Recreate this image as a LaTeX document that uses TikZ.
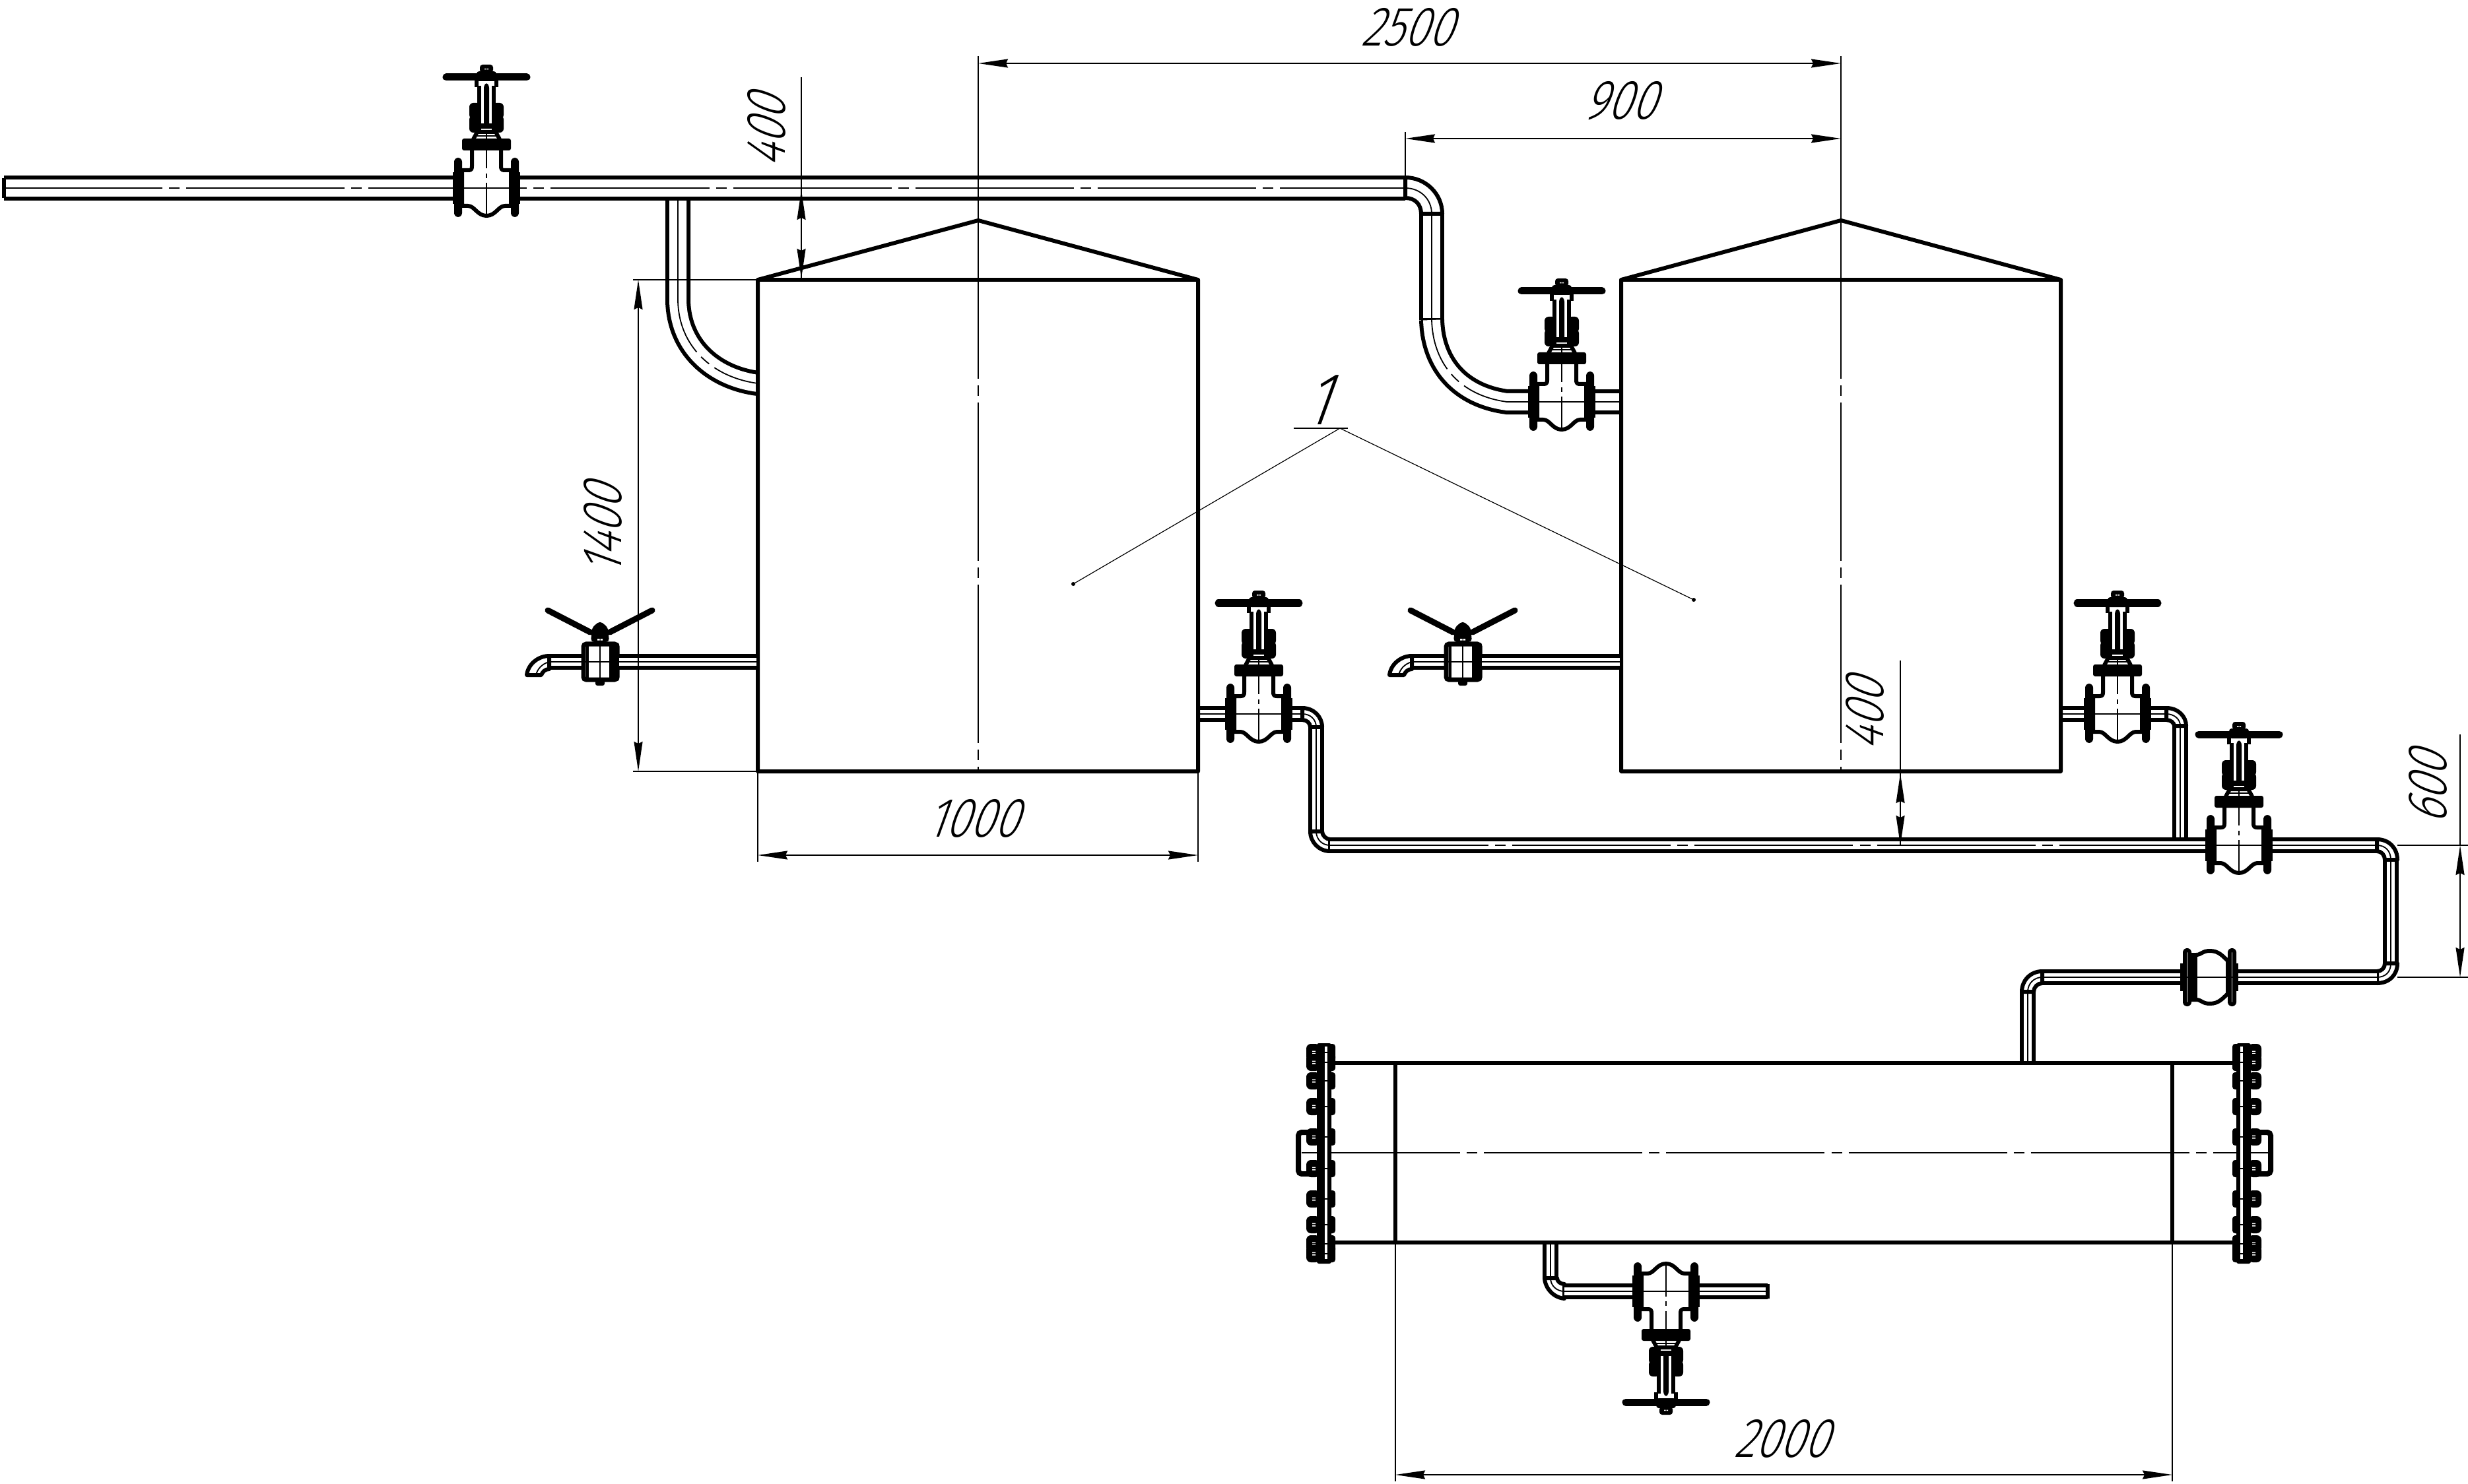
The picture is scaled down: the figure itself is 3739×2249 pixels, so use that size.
\documentclass[tikz,border=0pt]{standalone}
\usepackage{fontspec}
\usetikzlibrary{arrows.meta}
\newfontfamily\dimfont[FakeSlant=0.36,FakeStretch=0.8]{Fira Sans Light}
\tikzset{
 thickl/.style={line width=0.06cm,line join=round},
 thinl/.style={line width=0.018cm},
 cl/.style={line width=0.016cm,dash pattern=on 2.4cm off 0.1cm on 0.16cm off 0.1cm},
 bigpipe/.style={line width=0.06cm,double,double distance=0.26cm},
 smallpipe/.style={line width=0.06cm,double,double distance=0.115cm},
 dimarrow/.style={line width=0.018cm,{Stealth[length=0.45cm,width=0.13cm,inset=0.03cm]}-{Stealth[length=0.45cm,width=0.13cm,inset=0.03cm]}},
 dimtext/.style={font=\dimfont\fontsize{24}{24}\selectfont,inner sep=0pt},
 gatevalve/.pic={
  \draw[thickl,fill=white] (-37,-27) -- (-27,-27) .. controls (-23,-27) and (-22,-29) .. (-22,-33) -- (-22,-60) -- (22,-60) -- (22,-33) .. controls (22,-29) and (23,-27) .. (27,-27) -- (37,-27) -- (37,27) -- (28,27) .. controls (18,27) and (14,42) .. (0,42) .. controls (-14,42) and (-18,27) .. (-28,27) -- (-37,27) -- cycle;
  \draw[thinl] (0,-57) -- (0,-30) (0,-22) -- (0,-15) (0,-8) -- (0,42);
  \draw[thinl] (-45,0) -- (45,0);
  \draw[thickl,fill=white,rounded corners=0.03cm] (-46,-43) rectangle (-40,41);
  \draw[thickl,fill=white,rounded corners=0.03cm] (40,-43) rectangle (46,41);
  \draw[thickl] (-48,-24) -- (-48,24) (48,-24) -- (48,24);
  \fill[black,rounded corners=0.03cm] (-37,-75) rectangle (37,-57);
  \draw[thickl] (-20,-74) -- (-14,-85) -- (14,-85) -- (20,-74);
  \draw[thinl] (0,-85) -- (0,-74) (-16,-79) -- (16,-79);
  \fill[black,rounded corners=0.06cm] (-26,-129) rectangle (-9,-105);
  \fill[black,rounded corners=0.06cm] (-26,-110) rectangle (-9,-84);
  \fill[black,rounded corners=0.06cm] (9,-129) rectangle (26,-105);
  \fill[black,rounded corners=0.06cm] (9,-110) rectangle (26,-84);
  \draw[line width=0.065cm] (-11,-155) -- (-11,-88) (11,-155) -- (11,-88);
  \draw[thickl] (-15,-153) -- (-15,-165) (15,-153) -- (15,-165);
  \fill[black,rounded corners=0.03cm] (-4,-155) -- (0,-160) -- (4,-155) -- (4,-93) -- (-4,-93) -- cycle;
  \draw[line width=0.08cm] (-12,-94) -- (12,-94);
  \draw[line width=0.11cm,line cap=round] (-61,-168) -- (61,-168);
  \fill[black,rounded corners=0.04cm] (-15,-177) rectangle (15,-162);
  \fill[black,rounded corners=0.04cm] (-10,-187) rectangle (10,-175);
  \fill[white] (-3,-181) rectangle (-0.5,-179.5) (0.5,-181) rectangle (3,-179.5);
 },
 ballvalve/.pic={
  \draw[smallpipe] (-78,0) -- (-25,0);
  \draw[thickl,fill=white] (-77,-9) .. controls (-93,-9) and (-109,3) .. (-111,20) -- (-89,20) .. controls (-87,15) and (-83,11) .. (-77,11) -- cycle;
  \draw[thinl] (-97,20) .. controls (-95,11) and (-88,3) .. (-77,0);
  \draw[thinl] (-77,0) -- (-25,0);
  \draw[line width=0.09cm,line cap=round] (-79,-78) -- (-15,-45) (79,-78) -- (15,-45);
  \fill[black,rounded corners=0.05cm] (-14,-30) -- (-12,-52) -- (0,-62) -- (12,-52) -- (14,-30) -- cycle;
  \fill[white] (-4,-35) rectangle (-0.5,-32.5) (0.5,-35) rectangle (4,-32.5);
  \fill[black,rounded corners=0.03cm] (-7,20) rectangle (7,36);
  \draw[line width=0.07cm,fill=white,rounded corners=0.04cm] (-25,-27) rectangle (26,27);
  \fill[black,rounded corners=0.03cm] (14,-29) rectangle (29,29);
  \draw[line width=0.04cm] (-19,-25) -- (-19,25);
  \draw[thinl] (0,-27) -- (0,27) (-25,0) -- (14,0);
 },
}
\begin{document}
\begin{tikzpicture}[x=0.01cm,y=-0.01cm]
\useasboundingbox[fill=white] (0,0) rectangle (3739,2249);
% branch pipes, drawn before the mains they join
\draw[bigpipe] (1027,296) -- (1027,453) .. controls (1027,525) and (1080,572) .. (1148,581);
\draw[thinl,dash pattern=on 2.4cm off 0.1cm on 0.16cm off 0.1cm] (1027,300) -- (1027,453) .. controls (1027,525) and (1080,572) .. (1148,581);
\draw[smallpipe] (3303,1100) -- (3303,1275);
\draw[smallpipe] (3072,1503) -- (3072,1611);
\draw[smallpipe] (2349,1883) -- (2349,1938);
% main pipe
\draw[bigpipe] (6,285) -- (2129,285);
\draw[thickl] (6,270) -- (6,300);
\draw[cl] (6,285) -- (2129,285);
\draw[thickl,fill=white] (2129,269) .. controls (2160,269) and (2185,294) .. (2185,324) -- (2153,324) .. controls (2153,310) and (2144,300) .. (2129,300) -- cycle;
\draw[thinl] (2129,285) .. controls (2152,285) and (2169,302) .. (2169,324);
\draw[bigpipe] (2169,324) -- (2169,485);
\draw[thickl] (2153,324) -- (2185,324) (2153,485) -- (2185,485);
\draw[bigpipe] (2169,485) .. controls (2171,555) and (2215,600) .. (2283,609) -- (2325,609);
\draw[thinl,dash pattern=on 2.4cm off 0.1cm on 0.16cm off 0.1cm] (2169,324) -- (2169,485) .. controls (2171,555) and (2215,600) .. (2283,609) -- (2325,609);
\draw[bigpipe] (2405,609) -- (2456,609);
\draw[thinl] (2405,609) -- (2456,609);
% tank 1 outlet and collector
\draw[smallpipe] (1815,1082) -- (1866,1082) (1950,1082) -- (1973,1082);
\draw[thinl] (1815,1082) -- (1973,1082);
\draw[thickl,fill=white] (1973,1073) .. controls (1990,1073) and (2003,1086) .. (2003,1102) -- (1985,1102) .. controls (1985,1096) and (1980,1091) .. (1973,1091) -- cycle;
\draw[thinl] (1973,1082) .. controls (1985,1082) and (1994,1090) .. (1994,1102);
\draw[smallpipe] (1994,1102) -- (1994,1260);
\draw[thickl] (1985,1102) -- (2003,1102) (1985,1260) -- (2003,1260);
\draw[cl] (1994,1102) -- (1994,1260);
\draw[thickl,fill=white] (2015,1272) .. controls (2009,1272) and (2003,1266) .. (2003,1260) -- (1985,1260) .. controls (1985,1276) and (1998,1290) .. (2015,1290) -- cycle;
\draw[thinl] (1994,1260) .. controls (1994,1272) and (2003,1281) .. (2015,1281);
\draw[smallpipe] (2015,1281) -- (3350,1281) (3434,1281) -- (3601,1281);
\draw[cl] (2015,1281) -- (3350,1281) (3434,1281) -- (3601,1281);
% tank 2 outlet
\draw[smallpipe] (3122,1082) -- (3168,1082) (3252,1082) -- (3282,1082);
\draw[thinl] (3122,1082) -- (3282,1082);
\draw[thickl,fill=white] (3282,1073) .. controls (3300,1073) and (3312,1086) .. (3312,1100) -- (3294,1100) .. controls (3294,1096) and (3289,1091) .. (3282,1091) -- cycle;
\draw[thinl] (3282,1082) .. controls (3294,1082) and (3303,1090) .. (3303,1100);
\draw[thickl] (3294,1100) -- (3312,1100);
\draw[cl] (3303,1100) -- (3303,1272);
% right bend and lower line
\draw[thickl,fill=white] (3601,1272) .. controls (3620,1272) and (3632,1286) .. (3632,1303) -- (3613,1303) .. controls (3613,1296) and (3608,1290) .. (3601,1290) -- cycle;
\draw[thinl] (3601,1281) .. controls (3614,1281) and (3622,1290) .. (3622,1303);
\draw[smallpipe] (3622,1303) -- (3622,1460);
\draw[thickl] (3613,1303) -- (3632,1303) (3613,1460) -- (3632,1460);
\draw[cl] (3622,1303) -- (3622,1460);
\draw[thickl,fill=white] (3632,1460) .. controls (3632,1477) and (3620,1490) .. (3601,1490) -- (3601,1472) .. controls (3608,1472) and (3613,1467) .. (3613,1460) -- cycle;
\draw[thinl] (3622,1460) .. controls (3622,1473) and (3614,1481) .. (3601,1481);
\draw[smallpipe] (3388,1481) -- (3601,1481) (3094,1481) -- (3307,1481);
\draw[cl] (3601,1481) -- (3388,1481) (3307,1481) -- (3094,1481);
\draw[thickl,fill=white] (3094,1490) .. controls (3087,1490) and (3081,1496) .. (3081,1503) -- (3063,1503) .. controls (3063,1486) and (3076,1472) .. (3094,1472) -- cycle;
\draw[thinl] (3072,1503) .. controls (3072,1491) and (3081,1481) .. (3094,1481);
\draw[thinl] (3072,1503) -- (3072,1611);
% compensator
\draw[thickl,fill=white] (3320,1447) -- (3327,1447) .. controls (3335,1447) and (3336,1441) .. (3348,1441) .. controls (3362,1441) and (3368,1450) .. (3375,1456) -- (3375,1506) .. controls (3368,1512) and (3362,1521) .. (3348,1521) .. controls (3336,1521) and (3335,1515) .. (3327,1515) -- (3320,1515) -- cycle;
\draw[thickl] (3326,1447) -- (3326,1515);
\draw[thickl,fill=white,rounded corners=0.03cm] (3310,1440) rectangle (3317,1522);
\draw[thickl,fill=white,rounded corners=0.03cm] (3378,1440) rectangle (3385,1522);
\draw[thickl] (3306,1460) -- (3306,1502) (3388,1460) -- (3388,1502);
\draw[thinl] (3307,1481) -- (3388,1481);
% heat exchanger outlet pipe
\draw[thickl,fill=white] (2340,1937) .. controls (2340,1948) and (2350,1966) .. (2370,1968) -- (2370,1946) .. controls (2364,1946) and (2359,1942) .. (2359,1937) -- cycle;
\draw[thickl] (2340,1937) -- (2359,1937) (2370,1946) -- (2370,1968);
\draw[thinl] (2349,1883) -- (2349,1937) .. controls (2349,1948) and (2358,1957) .. (2370,1957);
\draw[smallpipe] (2370,1957) -- (2480,1957) (2568,1957) -- (2678,1957);
\draw[thickl] (2678,1946) -- (2678,1968);
\draw[thinl] (2370,1957) -- (2678,1957);
% tanks
\draw[thickl,fill=white] (1148,424) -- (1482,334) -- (1815,424) -- (1815,1169) -- (1148,1169) -- cycle;
\draw[thickl] (1148,424) -- (1815,424);
\draw[thickl,fill=white] (2456,424) -- (2789,334) -- (3122,424) -- (3122,1169) -- (2456,1169) -- cycle;
\draw[thickl] (2456,424) -- (3122,424);
% heat exchanger
\draw[thickl] (2020,1611) -- (3383,1611) (2020,1883) -- (3383,1883);
\draw[thickl] (2114,1611) -- (2114,1883) (3291,1611) -- (3291,1883);
\draw[cl] (1972,1747) -- (3438,1747);
% exchanger flanges and handles
\draw[line width=0.08cm,rounded corners=0.05cm] (1997,1716) -- (1967,1716) -- (1967,1779) -- (1997,1779);
\draw[line width=0.08cm,rounded corners=0.05cm] (3408,1716) -- (3440,1716) -- (3440,1779) -- (3408,1779);
\fill[black,rounded corners=0.03cm] (1995,1581) rectangle (2017,1915);
\fill[black,rounded corners=0.03cm] (3388,1581) rectangle (3410,1915);
\fill[white] (2007,1586) rectangle (2011,1908);
\fill[white] (3394,1586) rectangle (3398,1908);
\foreach \yy in {1595,1610,1638,1677,1723,1771,1817,1856,1885,1900}{
 \fill[black,rounded corners=0.07cm] (1979,\yy-13) rectangle (2000,\yy+13);
 \fill[black,rounded corners=0.04cm] (2012,\yy-13) rectangle (2023,\yy+13);
 \fill[black,rounded corners=0.04cm] (3382,\yy-13) rectangle (3393,\yy+13);
 \fill[black,rounded corners=0.07cm] (3406,\yy-13) rectangle (3426,\yy+13);
 \draw[thinl] (2007,\yy) -- (2011,\yy) (3394,\yy) -- (3398,\yy);
 \fill[white] (1988,\yy-2.5) rectangle (1993,\yy-1) (1988,\yy+1) rectangle (1993,\yy+2.5);
 \fill[white] (3412,\yy-2.5) rectangle (3417,\yy-1) (3412,\yy+1) rectangle (3417,\yy+2.5);
}
% valves
\pic at (737,285) {gatevalve};
\pic at (2366,609) {gatevalve};
\pic at (1907,1082) {gatevalve};
\pic at (3208,1082) {gatevalve};
\pic at (3392,1281) {gatevalve};
\pic[yscale=-1] at (2524,1957) {gatevalve};
\pic at (909,1003) {ballvalve};
\pic at (2216,1003) {ballvalve};
\draw[smallpipe] (938,1003) -- (1146,1003);
\draw[cl] (938,1003) -- (1146,1003);
\draw[smallpipe] (2245,1003) -- (2454,1003);
\draw[cl] (2245,1003) -- (2454,1003);
% centre and extension lines
\draw[thinl] (1482,85) -- (1482,334);
\draw[cl] (1482,334) -- (1482,1169);
\draw[thinl] (2789,85) -- (2789,334);
\draw[cl] (2789,334) -- (2789,1169);
\draw[thinl] (2129,200) -- (2129,268);
\draw[thinl] (1214,117) -- (1214,424);
\draw[thinl] (959,424) -- (1148,424) (959,1169) -- (1148,1169);
\draw[thinl] (1148,1169) -- (1148,1306) (1815,1169) -- (1815,1306);
\draw[thinl] (2879,1001) -- (2879,1281);
\draw[thinl] (2114,1883) -- (2114,2245) (3291,1883) -- (3291,2245);
\draw[thinl] (3632,1281) -- (3739,1281) (3632,1481) -- (3739,1481);
\draw[thinl] (3727,1113) -- (3727,1281);
% dimensions
\draw[dimarrow] (1482,96) -- (2789,96);
\draw[dimarrow] (2129,210) -- (2789,210);
\draw[dimarrow] (1214,288) -- (1214,422);
\draw[dimarrow] (967,424) -- (967,1169);
\draw[dimarrow] (1148,1296) -- (1815,1296);
\draw[dimarrow] (2879,1172) -- (2879,1281);
\draw[dimarrow] (3727,1281) -- (3727,1481);
\draw[dimarrow] (2114,2235) -- (3291,2235);
\node[dimtext] (d2500) at (2131,41) {2500};
\node[dimtext] (d900) at (2454,153) {900};
\node[dimtext,rotate=90] (d400a) at (1161,200) {400};
\node[dimtext,rotate=90] (d1400) at (913,804) {1400};
\node[dimtext] (d1000) at (1473,1240) {1000};
\node[dimtext,rotate=90] (d400b) at (2825,1084) {400};
\node[dimtext,rotate=90] (d600) at (3678,1195) {600};
\node[dimtext] (d2000) at (2698,2180) {2000};
% leader
\node[dimtext,font=\dimfont\fontsize{32}{32}\selectfont] (pos1) at (1994,606) {1};
\coordinate (lk) at (2030,649);
\coordinate (la) at (1626,885);
\coordinate (lb) at (2566,909);
\draw[thinl] (1960,649) -- (2042,649);
\draw[line width=0.012cm] (la) -- (lk) -- (lb);
\fill (la) circle[radius=3];
\fill (lb) circle[radius=3];
\end{tikzpicture}
\end{document}
